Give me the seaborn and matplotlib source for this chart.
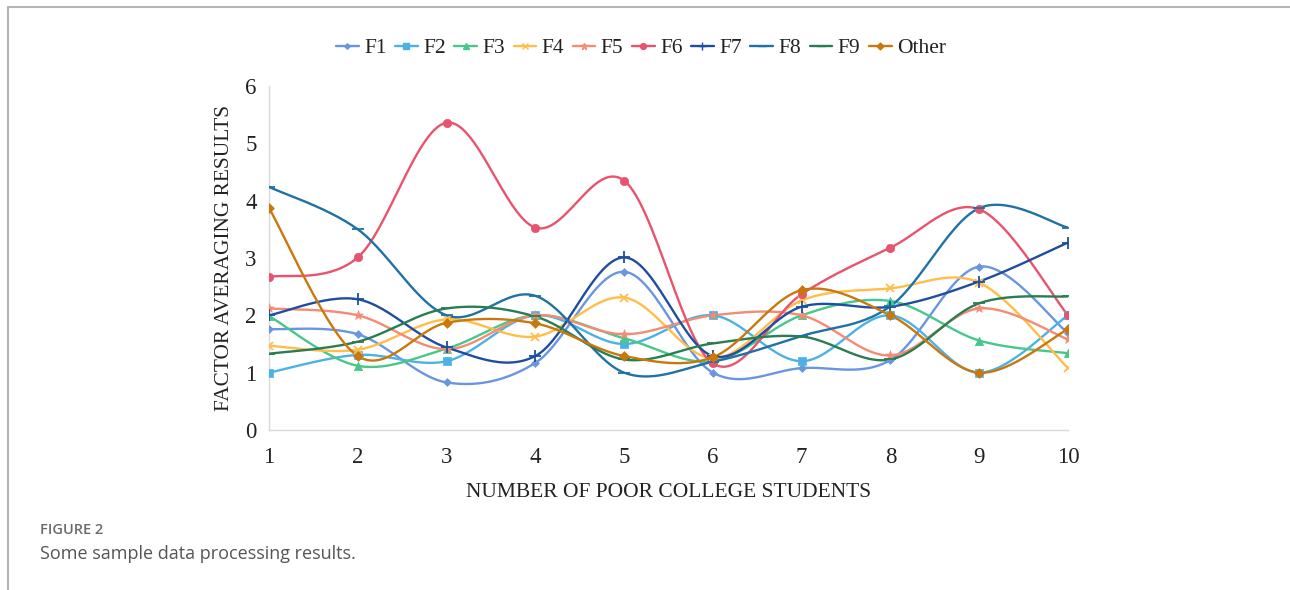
import numpy as np
import pandas as pd
import matplotlib
matplotlib.use("Agg")
import matplotlib.pyplot as plt
import seaborn as sns
from matplotlib.lines import Line2D

# ---------------- data ----------------
x_vals = [1, 2, 3, 4, 5, 6, 7, 8, 9, 10]
F1 = [1.76, 1.67, 0.83, 1.17, 2.76, 1.00, 1.08, 1.22, 2.85, 1.69]
F2 = [1.00, 1.31, 1.20, 2.00, 1.50, 2.00, 1.20, 2.00, 1.00, 2.00]
F3 = [1.99, 1.12, 1.42, 2.00, 1.60, 1.20, 2.00, 2.25, 1.56, 1.34]
F4 = [1.47, 1.40, 1.93, 1.63, 2.31, 1.25, 2.26, 2.47, 2.57, 1.08]
F5 = [2.12, 2.00, 1.41, 2.00, 1.67, 2.00, 2.00, 1.30, 2.12, 1.58]
F6 = [2.67, 3.01, 5.36, 3.53, 4.35, 1.16, 2.37, 3.18, 3.85, 2.00]
F7 = [2.00, 2.28, 1.44, 1.29, 3.01, 1.29, 2.15, 2.15, 2.59, 3.27]
F8 = [4.24, 3.50, 2.00, 2.34, 1.00, 1.19, 1.64, 2.16, 3.87, 3.53]
F9 = [1.33, 1.54, 2.12, 1.98, 1.23, 1.51, 1.63, 1.23, 2.21, 2.33]
Other = [3.87, 1.29, 1.87, 1.86, 1.29, 1.27, 2.44, 2.00, 1.00, 1.76]

series_names = ["F1", "F2", "F3", "F4", "F5", "F6", "F7", "F8", "F9", "Other"]
series_values = [F1, F2, F3, F4, F5, F6, F7, F8, F9, Other]
x_ticks = [1, 2, 3, 4, 5, 6, 7, 8, 9, 10]
y_ticks = [0, 1, 2, 3, 4, 5, 6]

colors = ["#6a95e0", "#4cb2e6", "#48c78c", "#ffbd4a", "#f48b74",
          "#e8536d", "#1f4e9f", "#1f72a3", "#2a7d51", "#c8780c"]
markers = ["D", "s", "^", "x", "*", "o", "+", "_", "_", "D"]
msizes = [4, 6, 6, 6, 7, 6, 8, 8, 8, 5]


def smooth(xs, ys, n=30):
    """Excel-like smoothed line: cubic Bezier through the points."""
    xs = np.asarray(xs, float)
    ys = np.asarray(ys, float)
    P = np.column_stack([xs, ys])
    Pp = np.vstack([P[0], P, P[-1]])
    out = []
    t = np.linspace(0, 1, n)[:, None]
    for i in range(len(P) - 1):
        p0, p1, p2, p3 = Pp[i], Pp[i + 1], Pp[i + 2], Pp[i + 3]
        c1 = p1 + (p2 - p0) / 6.0
        c2 = p2 - (p3 - p1) / 6.0
        seg = ((1 - t) ** 3) * p1 + 3 * ((1 - t) ** 2) * t * c1 + 3 * (1 - t) * t ** 2 * c2 + t ** 3 * p2
        out.append(seg if i == 0 else seg[1:])
    out = np.vstack(out)
    return out[:, 0], out[:, 1]


sns.set_theme(style="white")
plt.rcParams["font.family"] = ["Liberation Serif", "DejaVu Serif"]

fig = plt.figure(figsize=(12.9, 5.9), dpi=100)
ax = fig.add_axes([269 / 1290, 1 - 430 / 590, (1068 - 269) / 1290, (430 - 86) / 590])

handles = []
for name, vals, c, m, ms in zip(series_names, series_values, colors, markers, msizes):
    sx, sy = smooth(x_vals, vals)
    df_s = pd.DataFrame({"x": sx, "y": sy})
    sns.lineplot(data=df_s, x="x", y="y", ax=ax, color=c, linewidth=1.7,
                 sort=False, estimator=None, zorder=3)
    df_p = pd.DataFrame({"x": x_vals, "y": vals})
    if m in ("x", "+", "_"):
        ax.plot(df_p["x"], df_p["y"], linestyle="none", marker=m, color=c,
                markersize=ms, markeredgewidth=1.3, zorder=4)
    else:
        sns.scatterplot(data=df_p, x="x", y="y", ax=ax, color=c, marker=m,
                        s=ms ** 2, edgecolor=c, linewidth=0.5, zorder=4)
    handles.append(Line2D([0], [0], color=c, linewidth=1.7, marker=m,
                          markersize=ms * 0.7, markeredgewidth=1.0, label=name))

ax.set_xlim(1, 10)
ax.set_ylim(0, 6)
ax.set_xticks(x_ticks)
ax.set_yticks(y_ticks)
ax.tick_params(axis="both", length=0, labelsize=16.5, colors="#222222")
ax.tick_params(axis="x", pad=12)
ax.tick_params(axis="y", pad=9)
for s in ["top", "right"]:
    ax.spines[s].set_visible(False)
for s in ["left", "bottom"]:
    ax.spines[s].set_color("#d9d9d9")
    ax.spines[s].set_linewidth(1.0)
ax.set_xlabel("NUMBER OF POOR COLLEGE STUDENTS", fontsize=15.5, color="#222222", labelpad=11)
ax.set_ylabel("FACTOR AVERAGING RESULTS", fontsize=15.4, color="#222222", labelpad=8)

fig.legend(handles=handles, loc="center", bbox_to_anchor=(641 / 1290, 1 - 48 / 590),
           ncol=10, frameon=False, fontsize=15.5, handlelength=1.05, handletextpad=0.25,
           columnspacing=0.4, labelcolor="#222222")

# frame lines of the figure panel
fig.add_artist(Line2D([8 / 1290, 8 / 1290], [0, 1 - 7 / 590], color="#b5b5b5", linewidth=1.5))
fig.add_artist(Line2D([8 / 1290, 1], [1 - 7 / 590, 1 - 7 / 590], color="#b5b5b5", linewidth=1.5))

fig.text(40 / 1290, 1 - 530 / 590, "FIGURE 2", fontsize=10.5, color="#6b6b6b",
         family=["Open Sans", "DejaVu Sans"], fontweight="semibold", va="center")
fig.text(40 / 1290, 1 - 554 / 590, "Some sample data processing results.", fontsize=13,
         color="#555555", family=["Open Sans", "DejaVu Sans"], va="center")

fig.savefig("out.png", dpi=100)
